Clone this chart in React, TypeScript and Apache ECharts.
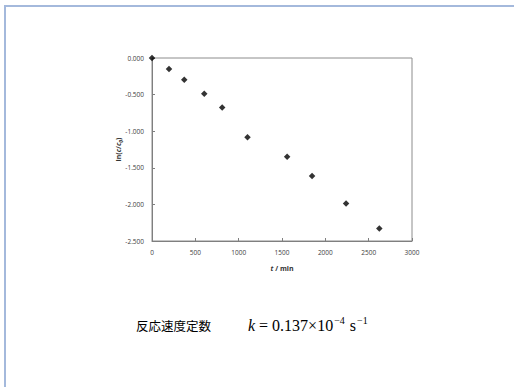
import React, { useEffect, useRef } from "react";
import * as echarts from "echarts";

// Data
const times = [0, 196, 372, 603, 810, 1102, 1559, 1847, 2239, 2623];
const lnRatio = [0, -0.15, -0.296, -0.49, -0.677, -1.082, -1.349, -1.613, -1.989, -2.33];
const xAxisRange = [0, 3000, 500];
const yAxisRange = [-2.5, 0, 0.5];
const xAxisTitle = "t";
const xAxisUnit = " / min";
const rateLabel = "反応速度定数";

export default function App() {
  const ref = useRef<HTMLDivElement>(null);
  useEffect(() => {
    if (!ref.current) return;
    const chart = echarts.init(ref.current, null, { renderer: "svg" });
    const points = times.map((t, i) => [t, lnRatio[i]]);
    chart.setOption({
      animation: false,
      backgroundColor: "#ffffff",
      grid: {
        left: 152,
        top: 58,
        right: 102,
        bottom: 146,
        show: true,
        borderColor: "#8c8c8c",
        borderWidth: 1,
      },
      xAxis: {
        type: "value",
        min: xAxisRange[0],
        max: xAxisRange[1],
        interval: xAxisRange[2],
        splitLine: { show: false },
        axisLine: { onZero: false, lineStyle: { color: "#7f7f7f", width: 1 } },
        axisTick: { show: true, inside: true, length: 3, lineStyle: { color: "#7f7f7f" } },
        axisLabel: {
          color: "#404040",
          fontSize: 6.5,
          fontFamily: "Open Sans",
          margin: 8,
          formatter: (v: number) => String(v),
        },
        name: `{it|${xAxisTitle}}{b|${xAxisUnit}}`,
        nameLocation: "middle",
        nameGap: 24,
        nameMoveOverlap: false,
        nameTextStyle: {
          rich: {
            it: { fontSize: 7, fontWeight: "bold", fontStyle: "italic", fontFamily: "Open Sans", color: "#333" },
            b: { fontSize: 7, fontWeight: "bold", fontFamily: "Open Sans", color: "#333" },
          },
        },
      },
      yAxis: {
        type: "value",
        min: yAxisRange[0],
        max: yAxisRange[1],
        interval: yAxisRange[2],
        splitLine: { show: false },
        axisLine: { onZero: false, lineStyle: { color: "#7f7f7f", width: 1 } },
        axisTick: { show: true, inside: true, length: 3, lineStyle: { color: "#7f7f7f" } },
        axisLabel: {
          color: "#404040",
          fontSize: 6.5,
          fontFamily: "Open Sans",
          margin: 8,
          formatter: (v: number) => v.toFixed(3),
        },
        name: "{b|ln(}{it|c}{b|/}{it|c}{sub|0}{b|)}",
        nameLocation: "middle",
        nameRotate: 90,
        nameGap: 29,
        nameMoveOverlap: false,
        nameTextStyle: {
          rich: {
            b: { fontSize: 7, fontWeight: "bold", fontFamily: "Open Sans", color: "#333" },
            it: { fontSize: 7, fontWeight: "bold", fontStyle: "italic", fontFamily: "Open Sans", color: "#333" },
            sub: { fontSize: 5, fontWeight: "bold", fontStyle: "italic", fontFamily: "Open Sans", color: "#333", verticalAlign: "bottom", lineHeight: 9 },
          },
        },
      },
      series: [
        {
          type: "scatter",
          data: points,
          symbol: "diamond",
          symbolSize: 6.5,
          itemStyle: { color: "#000000" },
        },
      ],
      graphic: [
        {
          type: "rect",
          shape: { x: 5, y: 6, width: 600, height: 500 },
          style: { fill: "none", stroke: "#a4b9dc", lineWidth: 2 },
          silent: true,
        },
        {
          type: "text",
          x: 136,
          y: 325,
          style: {
            text: rateLabel,
            fontSize: 12.5,
            fontFamily: "Noto Sans CJK JP",
            fill: "#000",
            verticalAlign: "middle",
          },
        },
        {
          type: "text",
          x: 248,
          y: 325,
          style: {
            text: "{it|k}{m| = 0.137×10}{sup|−4}{m| s}{sup|−1}",
            verticalAlign: "middle",
            rich: {
              it: { fontSize: 16, fontStyle: "italic", fontFamily: "Liberation Serif", fill: "#000", lineHeight: 20 },
              m: { fontSize: 16, fontFamily: "Liberation Serif", fill: "#000", lineHeight: 20 },
              sup: { fontSize: 10, fontFamily: "Liberation Serif", fill: "#000", verticalAlign: "top", lineHeight: 20, padding: [0, 1, 8, 1] },
            },
          },
        },
      ],
    });
    return () => chart.dispose();
  }, []);
  return (
    <div
      ref={ref}
      style={{ position: "absolute", left: 0, top: 0, width: 514, height: 387 }}
    />
  );
}
